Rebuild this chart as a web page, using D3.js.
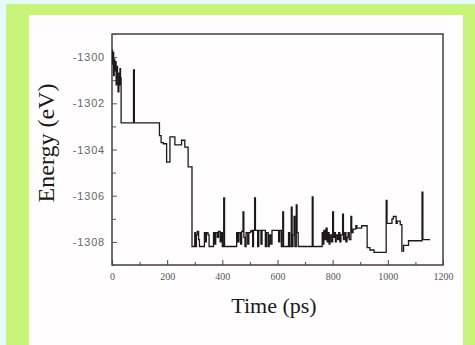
<!DOCTYPE html>
<html><head><meta charset="utf-8">
<script src="https://cdn.jsdelivr.net/npm/d3@7"></script>
<style>html,body{margin:0;padding:0;background:#e6f9fb;}svg{display:block;}</style>
</head><body>
<svg id="c" width="475" height="345"></svg>
<script>
// Data: time (ps) and energy (eV), step trace
const times = [0,2,4,6,8,10,12,15,17,20,22,25,27,29,31,33,
  78,81,172,178,186,198,210,228,252,264,276,290,
  300,303,306,309,314,317,335,338,342,348,352,368,372,376,382,386,392,396,400,405,408,
  452,456,460,466,470,475,478,482,486,492,496,502,
  505,510,513,517,520,528,532,540,544,556,560,566,570,575,580,604,608,614,619,622,
  640,644,650,653,656,660,663,668,671,675,726,729,
  762,765,768,772,776,780,783,787,790,795,800,803,806,810,813,818,822,826,830,836,839,844,848,852,856,860,866,869,
  874,884,888,905,925,935,950,994,997,1015,1020,1030,1034,1045,1051,1057,1075,1124,1127,1153];
const energies = [-1299.7,-1300.3,-1299.8,-1300.8,-1300.1,-1300.6,-1300.2,-1301.2,-1300.4,-1300.9,-1301.5,-1300.7,-1301.2,-1300.5,-1300.9,-1302.85,
  -1300.55,-1302.85,-1303.4,-1303.7,-1303.75,-1304.55,-1303.45,-1303.8,-1303.6,-1303.9,-1304.75,-1308.2,
  -1307.6,-1308.2,-1307.7,-1307.55,-1307.9,-1308.2,-1307.6,-1308.0,-1307.6,-1307.7,-1308.2,-1307.6,-1308.1,-1307.6,-1307.8,-1307.55,-1308.0,-1307.6,-1308.2,-1306.1,-1308.2,
  -1307.6,-1308.0,-1307.6,-1308.1,-1307.55,-1306.7,-1307.8,-1308.2,-1307.6,-1308.1,-1307.6,-1307.55,
  -1307.5,-1308.2,-1307.5,-1306.1,-1307.5,-1308.2,-1307.5,-1308.1,-1307.5,-1308.2,-1307.6,-1308.2,-1307.7,-1308.1,-1307.5,-1308.0,-1307.5,-1308.2,-1306.7,-1308.2,
  -1307.6,-1308.2,-1306.5,-1308.2,-1307.7,-1306.9,-1308.2,-1306.4,-1307.6,-1308.2,-1306.05,-1308.2,
  -1307.6,-1308.1,-1307.5,-1307.9,-1307.4,-1308.0,-1307.6,-1308.1,-1307.7,-1308.0,-1306.7,-1307.8,-1307.6,-1308.0,-1307.7,-1307.9,-1307.6,-1308.0,-1307.7,-1306.8,-1307.9,-1307.6,-1308.0,-1307.8,-1307.6,-1307.9,-1306.9,-1307.6,
  -1307.45,-1307.3,-1307.4,-1307.3,-1308.25,-1308.35,-1308.45,-1306.2,-1307.2,-1307.0,-1306.9,-1307.2,-1307.1,-1307.25,-1308.4,-1308.15,-1307.95,-1305.85,-1307.9,-1307.9];
const xTicks = [0,200,400,600,800,1000,1200];
const yTicks = [-1300,-1302,-1304,-1306,-1308];
const xLabel = "Time (ps)";
const yLabel = "Energy (eV)";

const data = times.map((t,i)=>({t, e: energies[i]}));
const svg = d3.select("#c");

// frame background
svg.append("rect").attr("x",0).attr("y",0).attr("width",475).attr("height",345).attr("fill","#e6f9fb");
svg.append("rect").attr("x",6).attr("y",4).attr("width",475).attr("height",350).attr("fill","#c9f47a");
svg.append("rect").attr("x",29).attr("y",15).attr("width",434).attr("height",340).attr("fill","#fffdfe");

const x = d3.scaleLinear().domain([0,1200]).range([112,443]);
const y = d3.scaleLinear().domain([-1309,-1299]).range([265,34]);

// plot box
svg.append("rect").attr("x",112).attr("y",34).attr("width",331).attr("height",231)
  .attr("fill","none").attr("stroke","#333").attr("stroke-width",1.4);

// bottom axis (inward ticks)
const xAx = svg.append("g").attr("transform","translate(0,265)")
  .call(d3.axisBottom(x).tickValues(d3.range(0,1201,100)).tickSize(-4).tickFormat(d=>xTicks.includes(d)?d:""));
xAx.select(".domain").remove();
xAx.selectAll(".tick line").attr("stroke","#444").attr("y2",d=>xTicks.includes(d)?-5:-3);
xAx.selectAll(".tick text").attr("y",8).attr("dy","0.71em").attr("font-family","Liberation Serif").attr("font-size",10).attr("fill","#555");

// left axis
const yAx = svg.append("g").attr("transform","translate(112,0)")
  .call(d3.axisLeft(y).tickValues(d3.range(-1309,-1298,1)).tickSize(-4).tickFormat(d=>yTicks.includes(d)?d:""));
yAx.select(".domain").remove();
yAx.selectAll(".tick line").attr("stroke","#555").attr("x2",d=>yTicks.includes(d)?5:4);
yAx.selectAll(".tick text").attr("x",-7).attr("font-family","Liberation Sans").attr("font-size",11)
  .attr("letter-spacing","0.8px").attr("fill","#666");

// trace
const line = d3.line().x(d=>x(d.t)).y(d=>y(d.e)).curve(d3.curveStepAfter);
svg.append("path").datum(data).attr("d",line).attr("fill","none").attr("stroke","#1a1a1a").attr("stroke-width",1.3);

// axis titles
svg.append("text").attr("x",274).attr("y",313).attr("text-anchor","middle")
  .attr("font-family","Liberation Serif").attr("font-size",22).attr("fill","#1a1a1a").text(xLabel);
svg.append("text").attr("transform","translate(54,143) rotate(-90)").attr("text-anchor","middle")
  .attr("font-family","Liberation Serif").attr("font-size",24).attr("fill","#1a1a1a").text(yLabel);
</script>
</body></html>
